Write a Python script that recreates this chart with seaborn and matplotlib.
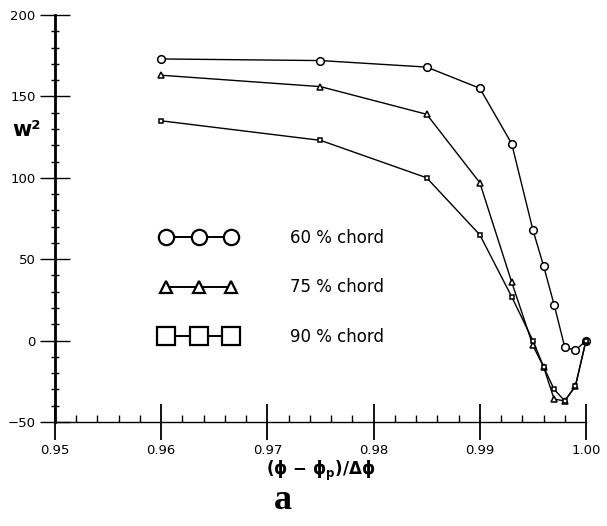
import numpy as np
import pandas as pd
import seaborn as sns
import matplotlib.pyplot as plt
from matplotlib.ticker import MultipleLocator, FormatStrFormatter

# data
x60 = [0.960, 0.975, 0.985, 0.990, 0.993, 0.995, 0.996, 0.997, 0.998, 0.999, 1.000]
y60 = [173, 172, 168, 155, 121, 68, 46, 22, -4, -6, 0]

x75 = [0.960, 0.975, 0.985, 0.990, 0.993, 0.995, 0.996, 0.997, 0.998, 0.999, 1.000]
y75 = [163, 156, 139, 97, 36, -3, -16, -36, -37, -28, 0]

x90 = [0.960, 0.975, 0.985, 0.990, 0.993, 0.995, 0.996, 0.997, 0.998, 0.999, 1.000]
y90 = [135, 123, 100, 65, 27, 0, -16, -30, -37, -28, 0]

labels = ["60 % chord", "75 % chord", "90 % chord"]
xticks = [0.95, 0.96, 0.97, 0.98, 0.99, 1.00]
yticks = [-50, 0, 50, 100, 150, 200]

sns.set_style("ticks")
plt.rcParams['font.family'] = ['DejaVu Sans']
plt.rcParams['text.color'] = 'black'
plt.rcParams['xtick.color'] = 'black'
plt.rcParams['ytick.color'] = 'black'
plt.rcParams['axes.edgecolor'] = 'black'
plt.rcParams['axes.labelcolor'] = 'black'

fig = plt.figure(figsize=(6.07, 5.26), dpi=100)
ax = fig.add_axes([0.0906, 0.1977, 0.8748, 0.7738])

# marker, size in plot, size in legend
series = [(x60, y60, "o", 5.5, 11), (x75, y75, "^", 4, 8), (x90, y90, "s", 3.5, 13)]
for (xs, ys, m, ms, _), lab in zip(series, labels):
    df = pd.DataFrame({"x": xs, "y": ys})
    sns.lineplot(data=df, x="x", y="y", ax=ax, color="black", marker=m,
                 markersize=ms, mfc="white", mec="black", mew=1.1,
                 linewidth=1.0, label=lab, clip_on=False)

ax.set_xlim(0.95, 1.0)
ax.set_ylim(-50, 200)
ax.set_xticks(xticks)
ax.set_yticks(yticks)
ax.xaxis.set_major_formatter(FormatStrFormatter('%.2f'))
ax.xaxis.set_minor_locator(MultipleLocator(0.002))
ax.yaxis.set_minor_locator(MultipleLocator(10))

ax.tick_params(axis='x', which='major', direction='inout', length=26, width=1.3, pad=3, labelsize=9.5)
ax.tick_params(axis='x', which='minor', direction='in', length=5, width=1)
ax.tick_params(axis='y', which='major', direction='inout', length=22, width=1, pad=3, labelsize=9.5)
ax.tick_params(axis='y', which='minor', direction='inout', length=6, width=1)

sns.despine(ax=ax)
ax.spines['left'].set_linewidth(2)
ax.spines['bottom'].set_linewidth(1)

ax.set_xlabel("(ϕ − ϕ$_\\mathbf{p}$)/Δϕ", fontsize=12, fontweight='bold', labelpad=1)
ax.set_ylabel("w²", rotation=0, fontsize=15, fontweight='bold')
ax.yaxis.set_label_coords(-0.053, 0.693)

leg = ax.legend(loc='upper left', bbox_to_anchor=(0.2, 0.475), frameon=False,
                numpoints=3, fontsize=12, handlelength=4.5, handletextpad=3.2,
                labelspacing=1.9, borderpad=0, borderaxespad=0)
for h, (_, _, _, _, lms) in zip(leg.legend_handles, series):
    h.set_markersize(lms)
    h.set_markeredgewidth(1.6)
    h.set_linewidth(1.4)

fig.text(0.466, 0.049, "a", ha='center', va='center', fontsize=26,
         fontweight='bold', family='Liberation Serif')

fig.savefig("out.png", dpi=100)
